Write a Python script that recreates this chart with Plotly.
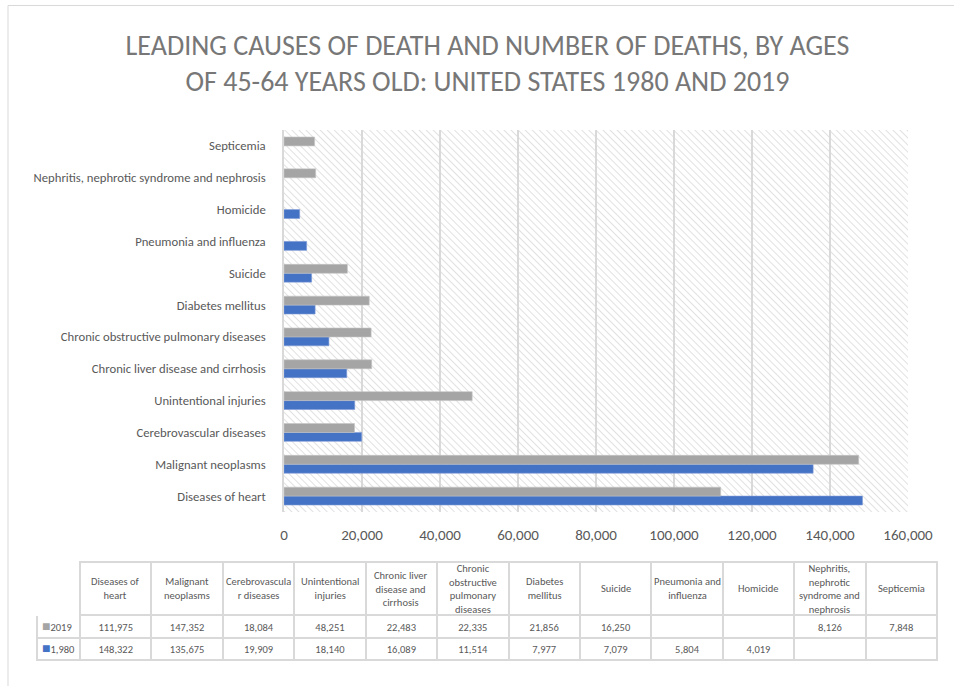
import base64
import plotly.graph_objects as go

# Leading causes of death, ages 45-64, United States
causes = [
    "Diseases of heart",
    "Malignant neoplasms",
    "Cerebrovascular diseases",
    "Unintentional injuries",
    "Chronic liver disease and cirrhosis",
    "Chronic obstructive pulmonary diseases",
    "Diabetes mellitus",
    "Suicide",
    "Pneumonia and influenza",
    "Homicide",
    "Nephritis, nephrotic syndrome and nephrosis",
    "Septicemia",
]
# Wrapped labels used in the data table header
table_headers = [
    "Diseases of<br>heart",
    "Malignant<br>neoplasms",
    "Cerebrovascula<br>r diseases",
    "Unintentional<br>injuries",
    "Chronic liver<br>disease and<br>cirrhosis",
    "Chronic<br>obstructive<br>pulmonary<br>diseases",
    "Diabetes<br>mellitus",
    "Suicide",
    "Pneumonia and<br>influenza",
    "Homicide",
    "Nephritis,<br>nephrotic<br>syndrome and<br>nephrosis",
    "Septicemia",
]
deaths_2019 = [111975, 147352, 18084, 48251, 22483, 22335, 21856, 16250, None, None, 8126, 7848]
deaths_1980 = [148322, 135675, 19909, 18140, 16089, 11514, 7977, 7079, 5804, 4019, None, None]
series_labels = ["2019", "1,980"]
x_ticks = [0, 20000, 40000, 60000, 80000, 100000, 120000, 140000, 160000]

BLUE = "#4472C4"
GRAY = "#A5A5A5"
TEXT = "#595959"
GRID = "#D9D9D9"
FONT = "Carlito, Calibri, Lato, sans-serif"

W, H = 954, 686
# plot area in pixels
PX0, PX1, PY0, PY1 = 284, 908, 130, 512
# table area in pixels
TX0, TX1, TY0, TY1 = 37, 937, 562, 664
KEY_W = 43
HEAD_H = 53
ROW_H = 22.5

fig = go.Figure()
fig.add_trace(go.Bar(
    y=causes, x=deaths_1980, orientation="h", name=series_labels[1],
    marker=dict(color=BLUE, line=dict(color="#7d9ad6", width=0.6)),
))
fig.add_trace(go.Bar(
    y=causes, x=deaths_2019, orientation="h", name=series_labels[0],
    marker=dict(color=GRAY, line=dict(color="#c4c4c4", width=0.6)),
))


def fmt(v):
    return f"{v:,}" if v is not None else ""


cell_cols = [["", ""]] + [[fmt(a), fmt(b)] for a, b in zip(deaths_2019, deaths_1980)]
data_w = (TX1 - TX0 - KEY_W) / len(causes)
col_w = [KEY_W] + [data_w] * len(causes)

fig.add_trace(go.Table(
    domain=dict(x=[TX0 / W, TX1 / W], y=[1 - TY1 / H, 1 - TY0 / H]),
    columnwidth=col_w,
    header=dict(
        values=[""] * (len(causes) + 1),
        fill_color="white",
        line=dict(color=["white"] + [GRID] * len(causes), width=2),
        font=dict(family=FONT, size=10, color=TEXT),
        height=HEAD_H,
    ),
    cells=dict(
        values=cell_cols,
        fill_color="white",
        line=dict(color=GRID, width=2),
        font=dict(family=FONT, size=10.5, color=TEXT),
        align="center",
        height=ROW_H,
    ),
))

annotations = []
# header labels, vertically centred in each header cell
for i, label in enumerate(table_headers):
    cx = TX0 + KEY_W + data_w * (i + 0.5)
    annotations.append(dict(
        text=label, xref="paper", yref="paper",
        x=cx / W, y=1 - (TY0 + HEAD_H / 2) / H,
        xanchor="center", yanchor="middle", showarrow=False,
        font=dict(family=FONT, size=10.5, color=TEXT), align="center",
    ))
# legend keys in the first table column
for r, (label, color) in enumerate(zip(series_labels, [GRAY, BLUE])):
    annotations.append(dict(
        text=f"<span style='color:{color};font-size:14px'>■</span>{label}",
        xref="paper", yref="paper",
        x=(TX0 + 3) / W, y=1 - (TY0 + HEAD_H + ROW_H * (r + 0.5)) / H,
        xanchor="left", yanchor="middle", showarrow=False,
        font=dict(family=FONT, size=10.5, color=TEXT),
    ))

# diagonal hatch for the plot background
svg = (
    "<svg xmlns='http://www.w3.org/2000/svg' width='624' height='382'>"
    "<defs><pattern id='h' width='5' height='5' patternUnits='userSpaceOnUse' "
    "patternTransform='rotate(-45)'>"
    "<line x1='0' y1='0' x2='0' y2='5' stroke='#dedede' stroke-width='1.8'/>"
    "</pattern></defs>"
    "<rect width='624' height='382' fill='url(#h)'/></svg>"
)
hatch_src = "data:image/svg+xml;base64," + base64.b64encode(svg.encode()).decode()

fig.update_layout(
    width=W, height=H,
    margin=dict(l=0, r=0, t=0, b=0, autoexpand=False),
    paper_bgcolor="white",
    plot_bgcolor="rgba(0,0,0,0)",
    barmode="group",
    bargap=0.44,
    bargroupgap=0,
    showlegend=False,
    font=dict(family=FONT, color=TEXT),
    title=dict(
        text="LEADING CAUSES OF DEATH AND NUMBER OF DEATHS, BY AGES<br>"
             "OF 45-64 YEARS OLD: UNITED STATES 1980 AND 2019",
        x=0.511, xanchor="center", y=1 - 55 / H, yanchor="middle",
        font=dict(family=FONT, size=28, color="#777777"),
    ),
    xaxis=dict(
        domain=[PX0 / W, PX1 / W],
        range=[0, 160000],
        tickvals=x_ticks,
        tickformat=",",
        showgrid=True, gridcolor=GRID, gridwidth=1.5,
        zeroline=False,
        showline=False,
        tickfont=dict(family=FONT, size=15, color=TEXT),
        ticks="", ticklabelstandoff=12,
        automargin=False,
        fixedrange=True,
    ),
    yaxis=dict(
        domain=[1 - PY1 / H, 1 - PY0 / H],
        categoryorder="array", categoryarray=causes,
        showline=True, linecolor=GRID, linewidth=1.5,
        showgrid=False,
        tickfont=dict(family=FONT, size=12.7, color=TEXT),
        ticks="", ticklabelstandoff=14,
        automargin=False,
        fixedrange=True,
    ),
    annotations=annotations,
    images=[dict(
        source=hatch_src, xref="x domain", yref="y domain",
        x=0, y=1, sizex=1, sizey=1, xanchor="left", yanchor="top",
        sizing="stretch", layer="below",
    )],
    shapes=[dict(
        type="rect", xref="paper", yref="paper",
        x0=8 / W, x1=1.05, y0=-0.05, y1=1 - 5.5 / H,
        line=dict(color=GRID, width=1), fillcolor="rgba(0,0,0,0)",
        layer="below",
    )],
)

fig.write_html("out.html")
